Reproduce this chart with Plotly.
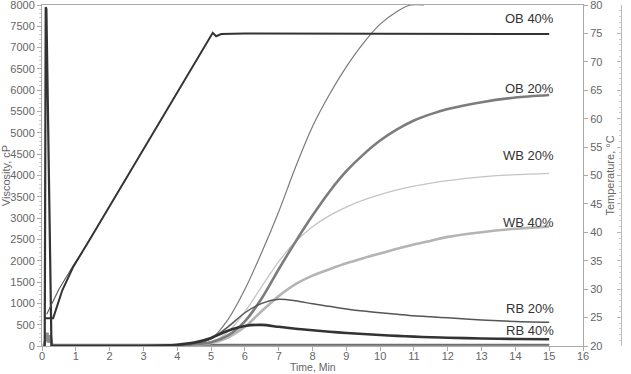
import plotly.graph_objects as go

# ---------------- data ----------------
# Temperature ramp (°C, right axis)
temp_t = [0.09, 0.33, 0.6, 0.93, 1.4, 2.0, 3.0, 4.0, 5.05, 5.15, 5.3, 6.0, 7.0, 8.0, 9.0, 10.0, 11.0, 12.0, 13.0, 14.0, 15.0]
temp_v = [24.9, 24.9, 29.8, 34.0, 38.6, 44.6, 54.6, 64.6, 75.1, 74.5, 74.9, 75.0, 75.0, 74.9, 75.0, 74.9, 75.0, 74.9, 74.9, 74.9, 74.9]
temp2_t = [0.14, 0.5, 0.93, 1.2]
temp2_v = [25.6, 30.0, 34.2, 36.6]

# Viscosity curves (cP, left axis)
time_pts = [0.3, 3.0, 3.5, 4.0, 4.5, 5.0, 5.5, 6.0, 6.5, 7.0, 7.5, 8.0, 8.5, 9.0, 9.5, 10.0, 10.5, 11.0, 11.5, 12.0, 13.0, 14.0, 15.0]
ob20 = [0, 0, 5, 15, 40, 90, 250, 580, 1120, 1800, 2450, 3060, 3620, 4100, 4490, 4820, 5080, 5290, 5440, 5560, 5720, 5830, 5890]
wb20 = [0, 0, 5, 15, 40, 100, 330, 800, 1400, 1980, 2450, 2800, 3060, 3260, 3420, 3550, 3660, 3750, 3820, 3880, 3970, 4020, 4050]
wb40 = [0, 0, 5, 15, 30, 70, 200, 450, 820, 1170, 1450, 1650, 1800, 1940, 2060, 2170, 2280, 2380, 2470, 2560, 2670, 2750, 2800]
rb20 = [0, 0, 5, 20, 60, 170, 450, 780, 1000, 1095, 1060, 990, 930, 870, 820, 780, 745, 710, 685, 660, 610, 575, 556]
rb40 = [0, 0, 10, 30, 80, 190, 360, 470, 495, 450, 405, 368, 336, 305, 280, 258, 238, 220, 206, 195, 175, 165, 157]

ob40_t = [0.3, 3.0, 3.5, 4.0, 4.5, 5.0, 5.5, 6.0, 6.5, 7.0, 7.5, 8.0, 8.5, 9.0, 9.5, 10.0, 10.5, 10.9, 11.3]
ob40 = [0, 0, 5, 15, 50, 170, 620, 1330, 2200, 3150, 4200, 5150, 5900, 6550, 7100, 7550, 7850, 8000, 8000]

# start-up artefacts
spike_t = [0.08, 0.11, 0.13, 0.28]
spike_v = [0, 7950, 7900, 0]
base_t = [0.05, 0.1, 0.15, 0.2, 0.25, 0.3, 15.0]
base_v = [0, 120, 310, 80, 250, 0, 0]
base2_t = [0.3, 15.0]
base2_v = [40, 40]

labels = ["OB 40%", "OB 20%", "WB 20%", "WB 40%", "RB 20%", "RB 40%"]
label_y = [7690, 6030, 4460, 2890, 870, 355]

x_ticks = list(range(0, 17))

# ---------------- figure ----------------
fig = go.Figure()

def add(x, y, color, width, axis="y", shape="spline"):
    fig.add_trace(go.Scatter(x=x, y=y, mode="lines", yaxis=axis,
                             line=dict(color=color, width=width, shape=shape,
                                       smoothing=0.8 if shape == "spline" else None),
                             showlegend=False, hoverinfo="skip"))

add(base_t, base_v, "#8c8c8c", 3, shape="linear")
add(base2_t, base2_v, "#555555", 1, shape="linear")
add(time_pts, wb40, "#b4b4b4", 2.6)
add(time_pts, wb20, "#c4c4c4", 1.3)
add(time_pts, ob20, "#7c7c7c", 2.6)
add(ob40_t, ob40, "#7a7a7a", 1.2)
add(time_pts, rb20, "#555555", 1.5)
add(time_pts, rb40, "#333333", 2.6)
add(spike_t, spike_v, "#333333", 2.2, shape="linear")
add(temp2_t, temp2_v, "#555555", 1.1, axis="y2", shape="linear")
add(temp_t, temp_v, "#333333", 2, axis="y2", shape="linear")

for txt, yy in zip(labels, label_y):
    fig.add_annotation(x=15.2, y=yy, xref="x", yref="y", text=txt, showarrow=False,
                       xanchor="right", yanchor="middle",
                       font=dict(family="Liberation Sans, Arial", size=13, color="#333333"))

axis_font = dict(family="Liberation Sans, Arial", size=11, color="#666666")

# x-axis title placed as text just below the tick labels
fig.add_annotation(x=0.5, y=-0.061, xref="x domain", yref="paper", text="Time, Min",
                   showarrow=False, xanchor="center", yanchor="middle", borderpad=0,
                   font=dict(family="Liberation Sans, Arial", size=10.5, color="#666666"))

fig.update_layout(
    width=631, height=374,
    margin=dict(l=42, r=10, t=5, b=28),
    paper_bgcolor="white", plot_bgcolor="white",
    font=axis_font,
    xaxis=dict(domain=[0, 0.9344], range=[0, 16], tickvals=x_ticks, ticks="",
               showline=True, linecolor="#aaaaaa", mirror=True, showgrid=False,
               zeroline=False, tickfont=axis_font, automargin=False, ticklabeloverflow="allow"),
    # tick marks only (no labels) on an overlaid copy of the x axis
    xaxis2=dict(domain=[0, 0.9344], overlaying="x", anchor="y", side="bottom", range=[0, 16],
                tickvals=x_ticks, ticks="outside", ticklen=4, tickcolor="#aaaaaa",
                showticklabels=False, showline=False, showgrid=False, zeroline=False),
    yaxis=dict(range=[0, 8000], dtick=500, ticks="outside", ticklen=4, tickcolor="#aaaaaa",
               showline=True, linecolor="#aaaaaa", mirror=True, showgrid=False, zeroline=False,
               minor=dict(dtick=100, ticks="outside", ticklen=2, tickcolor="#cccccc"),
               tickfont=axis_font, automargin=False, ticklabeloverflow="allow",
               title=dict(text="Viscosity, cP", font=axis_font, standoff=2)),
    yaxis2=dict(overlaying="y", side="right", anchor="x", range=[20, 80], dtick=5,
                ticks="outside", ticklen=4, tickcolor="#aaaaaa", showline=True, linecolor="#aaaaaa",
                showgrid=False, zeroline=False, tickfont=axis_font, automargin=False,
                ticklabeloverflow="allow",
                title=dict(text="Temperature, °C", font=axis_font, standoff=4)),
    yaxis3=dict(overlaying="y", side="right", anchor="free", position=1.0, range=[20, 80], dtick=5,
                ticks="inside", ticklen=4, tickcolor="#bbbbbb", showline=True, linecolor="#bbbbbb",
                showticklabels=False, showgrid=False, zeroline=False,
                minor=dict(dtick=1, ticks="inside", ticklen=2, tickcolor="#cccccc")),
)
# dummy traces to show the extra axes
fig.add_trace(go.Scatter(x=[None], y=[None], yaxis="y3", showlegend=False, hoverinfo="skip"))
fig.add_trace(go.Scatter(x=[None], y=[None], xaxis="x2", yaxis="y", showlegend=False, hoverinfo="skip"))

fig.write_html("out.html")
